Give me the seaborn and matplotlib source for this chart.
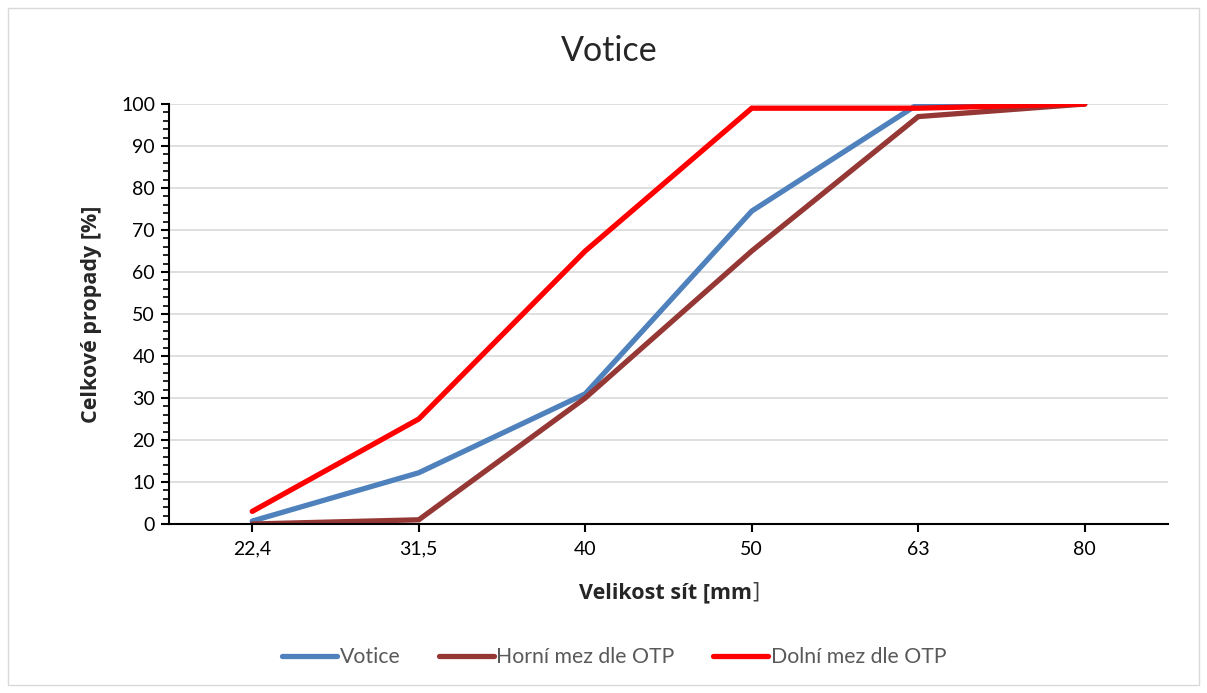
import matplotlib
matplotlib.use("Agg")
import matplotlib.pyplot as plt
import seaborn as sns
import pandas as pd
from matplotlib.ticker import MultipleLocator
from matplotlib.patches import Rectangle
from matplotlib.lines import Line2D

sizes = ["22,4", "31,5", "40", "50", "63", "80"]
votice = [0.7, 12.2, 31.0, 74.5, 100.0, 100.0]
horni = [0.0, 1.0, 30.0, 65.0, 97.0, 100.0]
dolni = [3.0, 25.0, 65.0, 99.0, 99.0, 100.0]
series_names = ["Votice", "Horní mez dle OTP", "Dolní mez dle OTP"]
colors = ["#4F81BD", "#953735", "#FF0000"]

rows = []
for name, vals in zip(series_names, [votice, horni, dolni]):
    for s, v in zip(sizes, vals):
        rows.append({"size": s, "value": v, "series": name})
df = pd.DataFrame(rows)

sns.set_theme(style="white")
plt.rcParams["font.family"] = ["Lato", "DejaVu Sans"]
label_font = ["Open Sans", "DejaVu Sans"]

fig = plt.figure(figsize=(12.07, 6.93), dpi=100)
ax = fig.add_axes([169/1207, 1-524/693, (1168-169)/1207, (524-104)/693])

sns.lineplot(data=df, x="size", y="value", hue="series", hue_order=series_names,
             palette=dict(zip(series_names, colors)), linewidth=3.8, sort=False,
             ax=ax, legend=False, solid_capstyle="round", solid_joinstyle="miter")

ax.set_xlim(-0.5, len(sizes) - 0.5)
ax.set_ylim(0, 100)
ax.yaxis.set_major_locator(MultipleLocator(10))
ax.yaxis.set_minor_locator(MultipleLocator(2))
ax.grid(axis="y", which="major", color="#D9D9D9", linewidth=1.2)
ax.set_axisbelow(True)
for sp in ["top", "right"]:
    ax.spines[sp].set_visible(False)
for sp in ["left", "bottom"]:
    ax.spines[sp].set_color("black")
    ax.spines[sp].set_linewidth(1.5)
ax.tick_params(axis="y", which="major", direction="out", length=6, width=1.5,
               labelsize=14, colors="black", left=True, pad=4)
ax.tick_params(axis="y", which="minor", direction="out", length=4, width=1.2,
               left=True, colors="black")
ax.tick_params(axis="x", which="major", direction="out", length=6, width=1.5,
               labelsize=14, colors="black", bottom=True, pad=6)

xl = ax.set_xlabel("Velikost sít [mm", fontsize=15.5, fontweight="bold", labelpad=6,
                   family=label_font)
ax.xaxis.set_label_coords(0.497, -0.138)
ax.annotate("]", xy=(1, 0), xycoords=xl, xytext=(0.5, 0), textcoords="offset points",
            ha="left", va="bottom", fontsize=15.5, family=label_font, color="#404040")
ax.set_ylabel("Celkové propady [%]", fontsize=15.5, fontweight="bold", labelpad=14,
              family=label_font)

fig.text(0.505, 1-51/693, "Votice", ha="center", va="center", fontsize=24.5)

handles = [Line2D([0], [0], color=c, linewidth=3.8, solid_capstyle="round") for c in colors]
leg = fig.legend(handles, series_names, loc="center", bbox_to_anchor=(614/1207, 1-657/693),
                 ncol=3, frameon=False, fontsize=15.3, handlelength=2.6, handletextpad=0.12,
                 columnspacing=1.8)
for t in leg.get_texts():
    t.set_color("#595959")

fig.patches.append(Rectangle((8/1207, 8/693), 1-16/1207, 1-16/693, transform=fig.transFigure,
                             fill=False, edgecolor="#D9D9D9", linewidth=1))

fig.savefig("out.png", dpi=100)
